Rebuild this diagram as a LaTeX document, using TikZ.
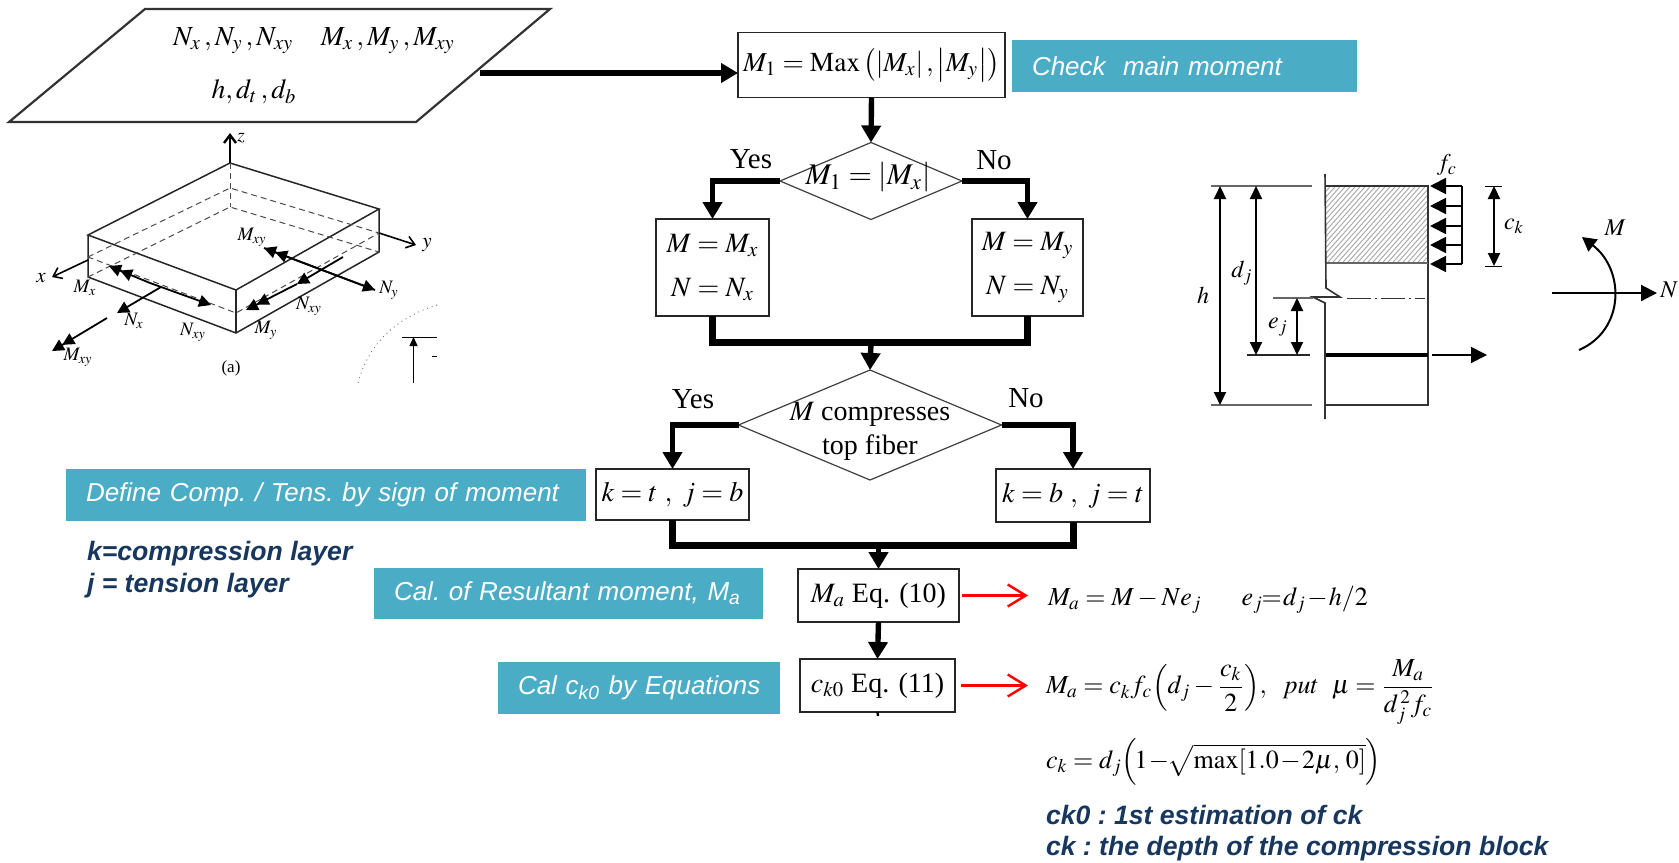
\documentclass[tikz,border=0pt]{standalone}
\usepackage{mathptmx}
\usepackage{fontspec}
\setmainfont{Liberation Serif}
\setsansfont{Liberation Sans}
\usetikzlibrary{arrows.meta,shapes.geometric}
\definecolor{tealbg}{HTML}{4BACC6}
\definecolor{navy}{HTML}{17375E}
\newcommand{\fsz}[1]{\fontsize{#1}{#1}\selectfont}
\tikzset{
  x=0.5pt,y=-0.5pt,
  every node/.style={inner sep=0pt,outer sep=0pt},
  flowbox/.style={draw=black!85,line width=0.9pt,fill=white,font=\fsz{14},align=center},
  decision/.style={diamond,draw=black!75,line width=0.6pt,fill=white,font=\fsz{14},align=center},
  heavy/.style={line width=3.5pt},
  flowarrow/.style={line width=2.7pt,-{Triangle[length=8.5pt,width=9.5pt]}},
  redarrow/.style={red,line width=1.2pt,-{Straight Barb[length=9pt,width=11pt]}},
  tealbox/.style={fill=tealbg,text=white,inner xsep=10pt,font=\sffamily\itshape\fsz{13}\frenchspacing,align=left},
  navytext/.style={text=navy,font=\sffamily\bfseries\itshape\fsz{13.3}\frenchspacing,align=left},
  eqn/.style={font=\fsz{13},anchor=west,inner xsep=10pt},
  yn/.style={font=\fsz{14.5}},
  tiny3d/.style={font=\fsz{9.5}},
  lab/.style={font=\fsz{12}},
  edge3d/.style={line width=0.75pt,black!85},
  dash3d/.style={line width=0.5pt,black!70,dash pattern=on 3pt off 2pt},
  dim/.style={line width=1pt,{Triangle[length=6.5pt,width=6pt]}-{Triangle[length=6.5pt,width=6pt]}},
  head3d/.style={line width=0.9pt,-{Triangle[length=6pt,width=6pt]}},
  twohead/.style={line width=0.9pt,-{Triangle[length=6pt,width=6pt]Triangle[length=6pt,width=6pt]}},
  gline/.style={line width=0.6pt,black!60},
}
\begin{document}
\begin{tikzpicture}
\useasboundingbox (0,0) rectangle (1679,862);
\fill[white] (0,0) rectangle (1679,862);

% ---------- input parallelogram
\draw[line width=1.1pt,black!80,fill=white] (145,9) -- (550,9) -- (416,122) -- (9,122) -- cycle;
\coordinate (pout) at (480,73);
\node[font=\fsz{13.8}] (pa) at (314,41) {$N_x\,,N_y\,,N_{xy}\quad M_x\,,M_y\,,M_{xy}$};
\node[font=\fsz{13.8}] (pb) at (254,92) {$h,d_t\,,d_b$};

% ---------- flow chart
\node[flowbox,minimum width=133.5pt,minimum height=32.5pt,font=\fsz{13.7}] (b0) at (871.5,65)
  {\raisebox{-1.5pt}{$M_1=\mathrm{Max}\left(\left|M_x\right|,\left|M_y\right|\right)$}};
\node[decision,minimum width=91pt,minimum height=38.5pt] (d1) at (871,181) {};
\node[font=\fsz{15}] (d1t) at (868,177) {$M_1=\left|M_x\right|$};
\node[flowbox,minimum width=56.5pt,minimum height=48.5pt] (b1) at (712.5,267.5)
  {$M=M_x$\\[8pt]$N=N_x$};
\node[flowbox,minimum width=55.5pt,minimum height=48.5pt] (b2) at (1027.5,267.5)
  {$M=M_y$\\[8pt]$N=N_y$};
\node[decision,minimum width=131.5pt,minimum height=55pt] (d2) at (870,425) {};
\node[font=\fsz{14},align=center] (d2t) at (870,431) {$M$ compresses\\[3pt]top fiber};
\node[flowbox,minimum width=76.5pt,minimum height=25.5pt] (b3) at (672.5,494.5) {$k=t\ ,\ j=b$};
\node[flowbox,minimum width=77pt,minimum height=26.5pt] (b4) at (1073,495.5) {$k=b\ ,\ j=t$};
\node[flowbox,minimum width=80.5pt,minimum height=26.5pt] (b5) at (878.5,595.5) {$M_a$ Eq. (10)};
\node[flowbox,minimum width=77.5pt,minimum height=26.5pt] (b6) at (877.5,685.5) {$c_{k0}$ Eq. (11)};

\coordinate (m1) at (871,342);
\coordinate (m2) at (878.5,545);
\coordinate (tick) at (878,716);

\draw[flowarrow] (pout) -- (pout -| b0.west);
\draw[flowarrow] (b0.south) -- (d1.north);
\draw[flowarrow] (d1.west) -| (b1.north);
\draw[flowarrow] (d1.east) -| (b2.north);
\draw[heavy] (b1.south) |- (m1) -| (b2.south);
\draw[flowarrow] (m1) -- (d2.north);
\draw[flowarrow] (d2.west) -| (b3.north);
\draw[flowarrow] (d2.east) -| (b4.north);
\draw[heavy] (b3.south) |- (m2) -| (b4.south);
\draw[flowarrow] (m2) -- (b5.north);
\draw[flowarrow] (b5.south) -- (b6.north);
\draw[line width=1.2pt] (b6.south) -- (tick);

\node[yn] (y1) at (751,159) {Yes};
\node[yn] (n1) at (994,160) {No};
\node[yn] (y2) at (693,399) {Yes};
\node[yn] (n2) at (1026,398) {No};

% ---------- teal annotations
\node[tealbox,text width=152.5pt,minimum height=26pt] (t1) at (1184.5,66) {\raisebox{-0.7pt}{\mbox{Check\ \ main moment}}};
\node[tealbox,text width=240pt,minimum height=26pt] (t2) at (326,495) {\raisebox{-1.5pt}{\mbox{Define Comp. / Tens. by sign of moment}}};
\node[tealbox,text width=174.5pt,minimum height=25.5pt] (t3) at (568.5,593.5) {\raisebox{-1.2pt}{\mbox{Cal. of Resultant moment, M\textsubscript{a}}}};
\node[tealbox,text width=121pt,minimum height=26pt] (t4) at (639,688) {\raisebox{-1.5pt}{\mbox{Cal c\textsubscript{k0} by Equations}}};

\node[navytext,anchor=west] (n3) at (87,554) {k=compression layer};
\node[navytext,anchor=west] (n4) at (87,586) {j = tension layer};
\node[navytext,anchor=west] (n5) at (1046,815) {ck0 : 1st estimation of ck};
\node[navytext,anchor=west] (n6) at (1046,849) {ck : the depth of the compression block};

% ---------- equations
\node[eqn] (e1) at (1028,600) {$M_a=M-Ne_j$\hspace{20pt}$\medmuskip=1mu\thickmuskip=1mu e_j\!=d_j-h/2$};
\node[eqn] (e2) at (1026,692) {$\displaystyle M_{a}=c_kf_c\!\left(d_{j}-\frac{c_k}{2}\right)\!,\ \ put\ \ \mu=\frac{M_{a}}{d_j^{\,2}f_c}$};
\node[eqn] (e3) at (1026,762) {$\medmuskip=1mu c_k=d_{j}\!\left(\!1-\!\sqrt{\mathrm{max}\!\left[1.0-2\mu,\,0\right]}\right)$};
\draw[redarrow,shorten <=1.5pt] (b5.east) -- (b5.east -| e1.west);
\draw[redarrow,shorten <=3pt] (b6.east) -- (b6.east -| e1.west);

% ---------- 3-D plate
\draw[edge3d] (230,163) -- (379,209) -- (236,290) -- (88,235) -- cycle;
\draw[edge3d] (88,235) -- (88,277) -- (236,333) -- (379,252) -- (379,209);
\draw[edge3d] (236,290) -- (236,333);
\draw[dash3d] (88,257) -- (230,188) -- (379,233) -- (236,313) -- cycle;
\draw[dash3d] (88,277) -- (230,207) -- (379,252);
\draw[dash3d] (230,163) -- (230,207);
\draw[line width=1.2pt,-{Straight Barb[length=4pt,width=6pt]}] (230,163) -- (230,133);
\draw[line width=0.8pt,-{Straight Barb[length=4pt,width=6pt]}] (379,233) -- (416,245);
\draw[line width=0.8pt,-{Straight Barb[length=4pt,width=6pt]}] (88,260) -- (52,277);
\draw[twohead] (375,290) -- (264,248);
\draw[head3d] (264,248) -- (375,290);
\draw[head3d] (343,257) -- (297,284);
\draw[twohead] (297,284) -- (246,310);
\draw[head3d] (150,283) -- (211,305);
\draw[twohead] (150,283) -- (109,266);
\draw[head3d] (161,287) -- (117,313);
\draw[twohead] (107,318) -- (52,351);
\node[tiny3d] (l1) at (241,138) {$z$};
\node[font=\fsz{10.5}] (l2) at (427,245) {$y$};
\node[font=\fsz{10.5}] (l3) at (41,278) {$x$};
\node[tiny3d] (l4) at (252,237) {$M_{xy}$};
\node[tiny3d] (l5) at (389,290) {$N_y$};
\node[tiny3d] (l6) at (85,288) {$M_x$};
\node[tiny3d] (l7) at (134,321) {$N_x$};
\node[tiny3d] (l8) at (193,332) {$N_{xy}$};
\node[tiny3d] (l9) at (309,306) {$N_{xy}$};
\node[tiny3d] (l10) at (266,330) {$M_y$};
\node[tiny3d] (l11) at (78,357) {$M_{xy}$};
\node[font=\fsz{8.5}] (l12) at (231,368) {(a)};
\draw[line width=0.4pt,black!70,dotted] (437,305) .. controls (395,318) and (368,345) .. (358,383);
\draw[line width=0.7pt,-{Triangle[length=4.5pt,width=4pt]}] (413.5,383) -- (413.5,337);
\draw[line width=0.5pt] (402,337) -- (437,337);
\draw[line width=0.5pt] (432,356) -- (437,356);

% ---------- section
\begin{scope}
\clip (1326,186) rectangle (1428,263);
\foreach \i in {0,5,...,200}{
  \draw[line width=0.45pt,black!35] (1326+\i-80,270) -- (1326+\i,180);
}
\end{scope}
\draw[line width=0.7pt,black!80] (1326,186) -- (1428,186) -- (1428,405) -- (1326,405);
\draw[line width=0.7pt,black!60] (1326,263) -- (1428,263);
\draw[line width=0.8pt,black!80] (1325,174) -- (1326,288) -- (1340,297) -- (1313,297) -- (1325,303) -- (1325,419);
\draw[gline] (1211,186) -- (1312,186);
\draw[gline] (1211,405) -- (1312,405);
\draw[line width=0.6pt,black!85] (1247,355) -- (1310,355);
\draw[gline] (1273,298) -- (1313,298);
\draw[line width=0.5pt,black!80,dash pattern=on 12pt off 2pt on 1pt off 2pt] (1347,298) -- (1425,298);
\draw[dim] (1220,186) -- (1220,405);
\draw[dim] (1256,186) -- (1256,355);
\draw[dim] (1297,298) -- (1297,355);
\draw[dim] (1494,186) -- (1494,266);
\draw[line width=0.5pt] (1485,186.5) -- (1502,186.5);
\draw[line width=0.5pt] (1485,266) -- (1502,266);
\draw[line width=2.4pt] (1326,355) -- (1428,355);
\draw[line width=0.8pt,-{Triangle[length=8pt,width=8pt]}] (1432,355) -- (1487,355);
\draw[line width=0.9pt] (1462,186) -- (1462,264);
\foreach \yy in {186,206,226,245,264}{
  \draw[line width=0.9pt,-{Triangle[length=8pt,width=8pt]}] (1462,\yy) -- (1430,\yy);
}
\draw[line width=1pt,-{Triangle[length=7pt,width=7.5pt]}] (1579,350) .. controls (1625,330) and (1625,270) .. (1582,237);
\draw[line width=1pt,-{Triangle[length=8pt,width=8pt]}] (1552,293) -- (1657,293);
\node[lab] (r1) at (1203,295) {$h$};
\node[lab] (r2) at (1242,273) {$d_j$};
\node[lab] (r3) at (1278,327) {$e_j$};
\node[lab] (r4) at (1447,165) {$f_c$};
\node[lab] (r5) at (1514,226) {$c_k$};
\node[lab] (r6) at (1615,228) {$M$};
\node[lab] (r7) at (1669,290) {$N$};
\end{tikzpicture}
\end{document}
